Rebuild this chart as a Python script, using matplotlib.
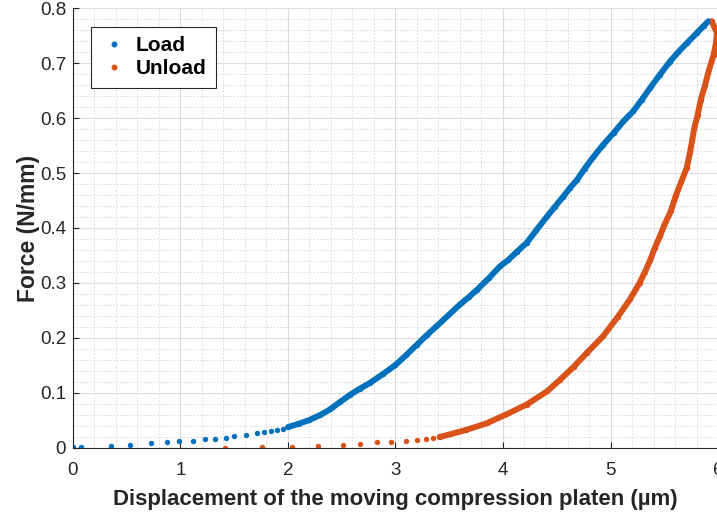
import matplotlib.pyplot as plt
from matplotlib.ticker import MultipleLocator

# colours of MATLAB's default order
blue = '#0072BD'
orange = '#D95319'

# sparse readings at low force, then the dense part of each curve
load_x = [0.0, 0.075, 0.356, 0.527, 0.73, 0.877, 0.99, 1.12, 1.23, 1.32, 1.42, 1.50,
          1.61, 1.71, 1.78, 1.84, 1.90, 1.95,
          2.0, 2.1, 2.2, 2.3, 2.39, 2.48, 2.58, 2.67, 2.76, 2.88, 3.0, 3.10, 3.20, 3.29,
          3.38, 3.49, 3.6, 3.68, 3.76, 3.87, 3.97, 4.05, 4.13, 4.22, 4.31, 4.41, 4.48,
          4.56, 4.62, 4.69, 4.76, 4.84, 4.93, 5.03, 5.12, 5.21, 5.29, 5.37, 5.46, 5.55,
          5.63, 5.71, 5.80, 5.87, 5.91]
load_y = [0.001, 0.002, 0.004, 0.006, 0.0085, 0.010, 0.012, 0.013, 0.016, 0.017, 0.018, 0.021,
          0.024, 0.027, 0.029, 0.031, 0.033, 0.035,
          0.038, 0.044, 0.051, 0.060, 0.070, 0.083, 0.097, 0.108, 0.118, 0.134, 0.151, 0.169,
          0.188, 0.205, 0.221, 0.241, 0.261, 0.274, 0.288, 0.309, 0.330, 0.342, 0.357, 0.373,
          0.396, 0.421, 0.438, 0.457, 0.472, 0.488, 0.508, 0.529, 0.551, 0.573, 0.594, 0.612,
          0.633, 0.655, 0.679, 0.702, 0.720, 0.736, 0.754, 0.768, 0.776]
load_dense = 18  # index where the points merge into a line

unload_x = [5.94, 5.99, 5.98, 5.96, 5.92, 5.88, 5.84, 5.81, 5.78, 5.76, 5.74, 5.71, 5.66,
            5.61, 5.56, 5.50, 5.46, 5.41, 5.37, 5.32, 5.27, 5.18, 5.07, 4.93, 4.78, 4.66,
            4.53, 4.41, 4.22, 4.03, 3.85, 3.66, 3.51, 3.41,
            3.35, 3.28, 3.20, 3.10, 2.96, 2.83, 2.67, 2.51, 2.28, 2.04, 1.76, 1.41]
unload_y = [0.776, 0.755, 0.735, 0.715, 0.690, 0.660, 0.633, 0.605, 0.582, 0.560, 0.538,
            0.510, 0.485, 0.460, 0.430, 0.405, 0.385, 0.363, 0.342, 0.320, 0.300, 0.270,
            0.239, 0.203, 0.173, 0.148, 0.124, 0.103, 0.079, 0.061, 0.045, 0.033, 0.025, 0.020,
            0.018, 0.016, 0.015, 0.013, 0.011, 0.010, 0.008, 0.006, 0.004, 0.002, 0.001, 0.0]
unload_dense = 34

plt.rcParams['font.family'] = ['Liberation Sans', 'DejaVu Sans']

fig = plt.figure(figsize=(7.17, 5.17), dpi=100)
ax = fig.add_axes([0.1018, 0.1335, 0.8996, 0.851])

ax.plot(load_x[load_dense:], load_y[load_dense:], color=blue, lw=4.3, solid_capstyle='round')
ax.plot(unload_x[:unload_dense], unload_y[:unload_dense], color=orange, lw=4.3,
        solid_capstyle='round')
ax.plot(load_x, load_y, 'o', color=blue, ms=3.9, mew=0, label='Load')
ax.plot(unload_x, unload_y, 'o', color=orange, ms=3.9, mew=0, label='Unload')

ax.set_xlim(0, 6)
ax.set_ylim(0, 0.8)
ax.xaxis.set_major_locator(MultipleLocator(1))
ax.xaxis.set_minor_locator(MultipleLocator(0.2))
ax.yaxis.set_minor_locator(MultipleLocator(0.02))
ax.set_yticks([0, 0.1, 0.2, 0.3, 0.4, 0.5, 0.6, 0.7, 0.8])
ax.set_yticklabels(['0', '0.1', '0.2', '0.3', '0.4', '0.5', '0.6', '0.7', '0.8'])

ax.grid(True, which='major', color='#dcdcdc', lw=0.8)
ax.grid(True, which='minor', color='#d4d4d4', lw=0.6, linestyle=(0, (2, 2)))
ax.set_axisbelow(True)

for s in ['top', 'right']:
    ax.spines[s].set_visible(False)
for s in ['left', 'bottom']:
    ax.spines[s].set_color('#262626')
    ax.spines[s].set_linewidth(0.8)
ax.tick_params(which='major', direction='in', length=4, color='#262626',
               labelcolor='#262626', labelsize=13.5)
ax.tick_params(axis='x', pad=10)
ax.tick_params(axis='y', pad=5)
ax.tick_params(which='minor', length=0)

ax.set_xlabel('Displacement of the moving compression platen (µm)', fontsize=16,
              fontweight='bold', color='#262626', labelpad=7)
ax.set_ylabel('Force (N/mm)', fontsize=16.5, fontweight='bold', color='#262626', labelpad=0)

leg = ax.legend(loc='upper left', bbox_to_anchor=(0.028, 0.957), borderaxespad=0,
                fancybox=False, framealpha=1, edgecolor='#262626',
                prop={'weight': 'bold', 'size': 15}, handletextpad=0.4,
                markerscale=1.1, borderpad=0.45, labelspacing=0.2, handlelength=1.3)
leg.get_frame().set_linewidth(0.8)

fig.savefig('out.png', dpi=100)
